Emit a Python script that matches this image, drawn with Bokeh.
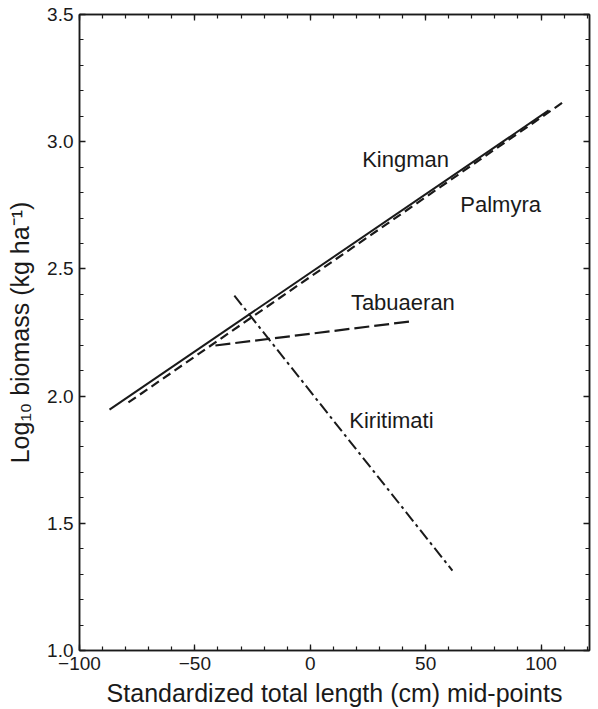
from bokeh.plotting import figure
from bokeh.models import (LinearAxis, FixedTicker, CustomJSTickFormatter, Range1d,
                          ColumnDataSource, CustomLabelingPolicy)
from bokeh.core.properties import value
from bokeh.embed import file_html
from bokeh.resources import INLINE

# ---- data ----
islands = ["Kingman", "Palmyra", "Tabuaeran", "Kiritimati"]
kingman_x = [-87.0, 103.3]
kingman_y = [1.947, 3.123]
palmyra_x = [-78.8, 110.0]
palmyra_y = [1.975, 3.158]
tabuaeran_x = [-41.1, 43.0]
tabuaeran_y = [2.199, 2.293]
kiritimati_x = [-32.9, 61.6]
kiritimati_y = [2.395, 1.314]

x_ticks = [-100, -50, 0, 50, 100]
y_ticks = [1.0, 1.5, 2.0, 2.5, 3.0, 3.5]

# label anchors (left, baseline)
label_x = [22.5, 65.0, 17.6, 16.9]
label_y = [2.929, 2.753, 2.369, 1.904]

FONT = "Liberation Sans"
INK = "#1a1a1a"

p = figure(width=598, height=709,
           x_range=Range1d(-100, 121), y_range=Range1d(1.0, 3.5),
           output_backend="svg", toolbar_location=None,
           min_border_left=79, min_border_right=9, min_border_top=14, min_border_bottom=59,
           background_fill_color="white", border_fill_color="white",
           outline_line_color=INK, outline_line_width=1.5)
p.grid.visible = False

x_minor = [v for v in range(-100, 121, 10)]
y_minor = [round(1.0 + 0.1 * i, 1) for i in range(26)]
xt = FixedTicker(ticks=x_ticks, minor_ticks=x_minor)
yt = FixedTicker(ticks=y_ticks, minor_ticks=y_minor)

xfmt = CustomJSTickFormatter(code="return tick < 0 ? '\u2212' + Math.abs(tick) : String(tick);")
yfmt = CustomJSTickFormatter(code="return tick.toFixed(1);")
no_labels = CustomLabelingPolicy(code="return new indices.constructor(indices.size);")

def style(ax, labels=True):
    ax.major_tick_in = 6
    ax.major_tick_out = 0
    ax.minor_tick_in = 4
    ax.minor_tick_out = 0
    ax.major_tick_line_color = INK
    ax.minor_tick_line_color = INK
    ax.major_tick_line_width = 1.3
    ax.minor_tick_line_width = 1.2
    ax.axis_line_color = INK
    ax.axis_line_width = 1.5
    ax.major_label_text_font = FONT
    ax.major_label_text_color = INK
    ax.axis_label_text_font = FONT
    ax.axis_label_text_font_style = "normal"
    ax.axis_label_text_color = INK
    ax.major_label_text_line_height = 1.0
    ax.axis_label_text_line_height = 1.0
    if labels:
        ax.major_label_text_font_size = "19px"
        ax.axis_label_text_font_size = "25px"
    else:
        ax.major_label_text_font_size = "1px"
        ax.major_label_standoff = 0
        ax.major_label_policy = no_labels

xa = p.xaxis[0]
xa.ticker = xt
xa.formatter = xfmt
style(xa)
xa.major_label_standoff = 6
xa.axis_label_standoff = 6
xa.axis_label = "Standardized total length (cm) mid-points"

ya = p.yaxis[0]
ya.ticker = yt
ya.formatter = yfmt
style(ya)
ya.major_label_standoff = 6
ya.axis_label_standoff = 10
ya.axis_label = "Log\u2081\u2080 biomass (kg ha\u207b\u00b9)"

top = LinearAxis(ticker=xt, formatter=xfmt)
style(top, labels=False)
p.add_layout(top, "above")
right = LinearAxis(ticker=yt, formatter=yfmt)
style(right, labels=False)
p.add_layout(right, "right")

# lines
p.line(kingman_x, kingman_y, line_color=INK, line_width=2.0)
p.line(palmyra_x, palmyra_y, line_color=INK, line_width=2.2, line_dash="9 5")
p.line(tabuaeran_x, tabuaeran_y, line_color=INK, line_width=2.2, line_dash="15 5")
p.line(kiritimati_x, kiritimati_y, line_color=INK, line_width=2.0, line_dash="12 4 3 4")

src = ColumnDataSource(dict(x=label_x, y=label_y, text=islands))
p.text(x="x", y="y", text="text", source=src, text_font=value(FONT),
       text_font_size="22px", text_align="left", text_baseline="alphabetic",
       text_color=INK)

open("out.html", "w").write(file_html(p, INLINE))
